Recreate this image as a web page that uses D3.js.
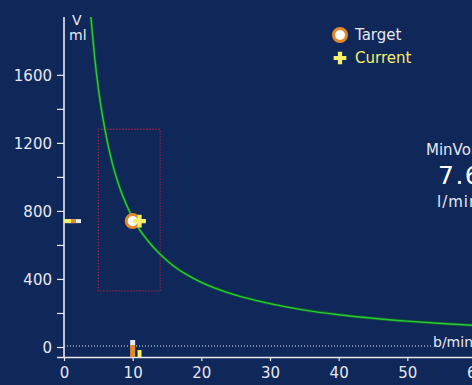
<!DOCTYPE html>
<html>
<head>
<meta charset="utf-8">
<script src="https://cdn.jsdelivr.net/npm/d3@7/dist/d3.min.js"></script>
<style>
  html, body { margin: 0; padding: 0; background: #10275a; overflow: hidden; }
  svg { display: block; }
  text { font-family: "DejaVu Sans", Verdana, sans-serif; }
</style>
</head>
<body>
<svg id="chart" width="472" height="385"></svg>
<script>
// Respiratory rate (b/min) vs tidal volume (ml) at constant minute volume
const rateTicks = [0, 10, 20, 30, 40, 50, 60];
const volTicks = [0, 200, 400, 600, 800, 1000, 1200, 1400, 1600];
const volLabels = [0, 400, 800, 1200, 1600];

// Iso-minute-volume curve points (rate, volume)
const curveRate = [3.9, 4.5, 5, 6, 7, 8, 9, 10, 11, 12, 14, 16, 18, 20, 25, 30, 35, 40, 45, 50, 55, 60, 62];
const curveVol  = [1950, 1690, 1520, 1270, 1085, 950, 845, 760, 690, 635, 545, 475, 422, 380, 305, 255, 217, 190, 169, 152, 138, 127, 123];

// Allowed range (rate min/max, volume min/max)
const limitRate = [5, 14];
const limitVol = [330, 1280];

const target = { rate: 10, vol: 740 };
const current = { rate: 11, vol: 740 };
const minVolume = "7.6";

const svg = d3.select("#chart");
const W = 472, H = 385;

const x = d3.scaleLinear().domain([0, 60]).range([64, 476]);
const y = d3.scaleLinear().domain([0, 1940]).range([347, 17]);
const axisY = 357;

const white = "#e6e8ef";
const orange = "#e28a2b";
const yellow = "#f6ef6a";

// Clip for plot area
svg.append("defs").append("clipPath").attr("id", "plotClip")
  .append("rect").attr("x", x(0) + 1).attr("y", y(1940)).attr("width", 500).attr("height", axisY - y(1940));

// Zero reference line (dotted)
svg.append("line")
  .attr("x1", x(0)).attr("x2", 432)
  .attr("y1", y(0) - 1).attr("y2", y(0) - 1)
  .attr("stroke", white).attr("stroke-width", 1).attr("stroke-dasharray", "1,2");

svg.append("text").attr("x", 433).attr("y", y(0))
  .attr("fill", white).attr("font-size", 14).text("b/min");

// Limits rectangle
svg.append("rect")
  .attr("x", x(limitRate[0])).attr("y", y(limitVol[1]))
  .attr("width", x(limitRate[1]) - x(limitRate[0]))
  .attr("height", y(limitVol[0]) - y(limitVol[1]))
  .attr("fill", "none").attr("stroke", "#a3243f").attr("stroke-width", 1.3)
  .attr("stroke-dasharray", "1.3,1.7");

// Curve
const pts = curveRate.map((r, i) => [r, curveVol[i]]);
const line = d3.line().x(d => x(d[0])).y(d => y(d[1])).curve(d3.curveMonotoneX);
const g = svg.append("g").attr("clip-path", "url(#plotClip)");
g.append("path").datum(pts).attr("d", line)
  .attr("fill", "none").attr("stroke", "#0d5a2a").attr("stroke-width", 3);
g.append("path").datum(pts).attr("d", line)
  .attr("fill", "none").attr("stroke", "#2cc83e").attr("stroke-width", 1.4);

// Y axis
const yAxis = d3.axisLeft(y).tickValues(volTicks).tickSize(7).tickPadding(5)
  .tickFormat(d => volLabels.includes(d) ? d : "");
const yg = svg.append("g").attr("transform", `translate(${x(0)},0)`).call(yAxis);
yg.select(".domain").remove();
yg.selectAll("line").attr("stroke", white).attr("stroke-width", 1.2);
yg.selectAll("text").attr("fill", white).attr("font-size", 15).attr("font-family", "DejaVu Sans").attr("dy", "0.36em");
svg.append("line").attr("x1", x(0)).attr("x2", x(0)).attr("y1", y(1940)).attr("y2", axisY)
  .attr("stroke", white).attr("stroke-width", 1.6);

// X axis
const xAxis = d3.axisBottom(x).tickValues(rateTicks).tickSize(4).tickPadding(6).tickSizeOuter(0);
const xg = svg.append("g").attr("transform", `translate(0,${axisY})`).call(xAxis);
xg.select(".domain").attr("stroke", white).attr("stroke-width", 1.6).attr("d", `M${x(0) - 7},0.5H${W + 10}`);
xg.selectAll("line").attr("stroke", white).attr("stroke-width", 1.2);
xg.selectAll("text").attr("fill", white).attr("font-size", 15).attr("font-family", "DejaVu Sans");

// Axis unit labels
svg.append("text").attr("x", 72).attr("y", 25).attr("fill", white).attr("font-size", 14).text("V");
svg.append("text").attr("x", 69).attr("y", 40).attr("fill", white).attr("font-size", 14).text("ml");

// Markers on the volume axis
const yv = y(target.vol);
svg.append("rect").attr("x", x(0)).attr("y", yv - 2).attr("width", 17).attr("height", 4).attr("fill", white);
svg.append("rect").attr("x", x(0) + 7).attr("y", yv - 2).attr("width", 5).attr("height", 4).attr("fill", orange);
svg.append("rect").attr("x", x(0)).attr("y", yv - 2).attr("width", 7).attr("height", 4).attr("fill", yellow);

// Markers on the rate axis
const xt = x(target.rate), xc = x(current.rate);
svg.append("rect").attr("x", xt - 2.5).attr("y", axisY - 17).attr("width", 5).attr("height", 5).attr("fill", white);
svg.append("rect").attr("x", xt - 2.5).attr("y", axisY - 12).attr("width", 5).attr("height", 12).attr("fill", orange);
svg.append("rect").attr("x", xc - 2).attr("y", axisY - 7).attr("width", 4).attr("height", 7).attr("fill", yellow);

// Target and current points
const cross = d3.symbol().type(d3.symbolCross).size(90);
svg.append("circle").attr("cx", xt).attr("cy", y(target.vol)).attr("r", 6.5)
  .attr("fill", "#ffffff").attr("stroke", orange).attr("stroke-width", 3);
svg.append("path").attr("d", cross).attr("transform", `translate(${xc},${y(current.vol)})`)
  .attr("fill", yellow);

// Legend
svg.append("circle").attr("cx", 340).attr("cy", 35).attr("r", 6.5)
  .attr("fill", "#ffffff").attr("stroke", orange).attr("stroke-width", 3);
svg.append("text").attr("x", 355).attr("y", 40).attr("fill", white).attr("font-size", 15).text("Target");
svg.append("path").attr("d", cross).attr("transform", "translate(340,58)").attr("fill", yellow);
svg.append("text").attr("x", 355).attr("y", 63).attr("fill", yellow).attr("font-size", 15).text("Current");

// Minute volume readout
svg.append("text").attr("x", 426).attr("y", 155).attr("fill", white).attr("font-size", 15).text("MinVol");
svg.append("text").attr("x", 438).attr("y", 184).attr("fill", "#ffffff").attr("font-size", 25)
  .attr("letter-spacing", 1.5).text(minVolume);
svg.append("text").attr("x", 437).attr("y", 207).attr("fill", white).attr("font-size", 15)
  .attr("letter-spacing", 1).text("l/min");
</script>
</body>
</html>
